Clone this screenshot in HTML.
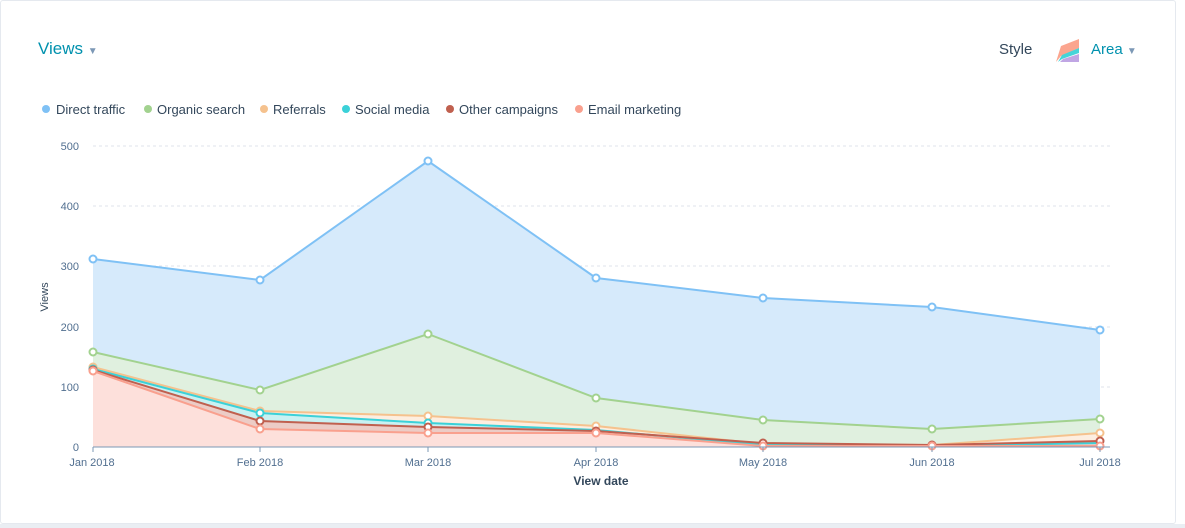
<!DOCTYPE html>
<html><head><meta charset="utf-8"><style>
body{margin:0;width:1185px;height:528px;background:#fff;font-family:"Liberation Sans",sans-serif;overflow:hidden;position:relative}
.card{position:absolute;left:0;top:0;width:1176px;height:524px;border:1px solid #e5e9ef;border-radius:3px;box-sizing:border-box}
.bot{position:absolute;left:0;top:524px;width:1185px;height:4px;background:#eaeef3}
.t{position:absolute;white-space:nowrap}
.d{position:absolute;top:105px;width:8px;height:8px;border-radius:50%}
.l{position:absolute;top:102px;font-size:13px;color:#33475b;white-space:nowrap}
</style></head><body>
<div class="card"></div><div class="bot"></div>
<div class="t" style="left:38px;top:39px;font-size:17px;color:#0091ae">Views <span style="font-size:10px;color:#7c98b6">▼</span></div>
<div class="t" style="left:999px;top:41px;font-size:15px;color:#33475b">Style</div>
<svg style="position:absolute;left:1055px;top:36px" width="26" height="26"><path d="M1 26 L6 10 L24 3 L24 12 L6 20Z" fill="#fba58f"/><path d="M3 26 L7 19 L24 12 L24 17 L7 23Z" fill="#45d4d8"/><path d="M5 26 L8 23 L24 18 L24 26Z" fill="#c0a6e4"/></svg>
<div class="t" style="left:1091px;top:41px;font-size:15px;color:#0091ae">Area <span style="font-size:10px;color:#7c98b6">▼</span></div>
<div class="d" style="left:42px;background:#7fc1f5"></div><div class="l" style="left:56px">Direct traffic</div>
<div class="d" style="left:144px;background:#a2d28f"></div><div class="l" style="left:157px">Organic search</div>
<div class="d" style="left:260px;background:#f5c28e"></div><div class="l" style="left:273px">Referrals</div>
<div class="d" style="left:342px;background:#3bd1d8"></div><div class="l" style="left:355px">Social media</div>
<div class="d" style="left:446px;background:#c0604f"></div><div class="l" style="left:459px">Other campaigns</div>
<div class="d" style="left:575px;background:#f9a08e"></div><div class="l" style="left:588px">Email marketing</div>
<svg style="position:absolute;left:0;top:0" width="1185" height="528" font-family="Liberation Sans,sans-serif">
<g stroke="#dfe3eb" stroke-dasharray="3,3"><line x1="93" x2="1110" y1="146" y2="146"/><line x1="93" x2="1110" y1="206" y2="206"/><line x1="93" x2="1110" y1="266" y2="266"/><line x1="93" x2="1110" y1="327" y2="327"/><line x1="93" x2="1110" y1="387" y2="387"/></g>
<g font-size="11" fill="#516f90" text-anchor="end"><text x="79" y="150">500</text><text x="79" y="210">400</text><text x="79" y="270">300</text><text x="79" y="331">200</text><text x="79" y="391">100</text><text x="79" y="451">0</text></g>
<text x="48" y="297" font-size="11" fill="#33475b" transform="rotate(-90 48 297)" text-anchor="middle">Views</text>
<path d="M93 259 L260 280 L428 161 L596 278 L763 298 L932 307 L1100 330 L1100 447 L93 447Z" fill="#d6eafb"/>
<path d="M93 352 L260 390 L428 334 L596 398 L763 420 L932 429 L1100 419 L1100 447 L93 447Z" fill="#e0f0df"/>
<path d="M93 367 L260 411 L428 416 L596 426 L763 444 L932 445 L1100 433 L1100 447 L93 447Z" fill="#fdeee0"/>
<path d="M93 369 L260 413 L428 423 L596 430 L763 445 L932 446 L1100 443 L1100 447 L93 447Z" fill="#c9f1f2"/>
<path d="M93 370 L260 421 L428 427 L596 431 L763 443 L932 445 L1100 441 L1100 447 L93 447Z" fill="#ecccc6"/>
<path d="M93 371 L260 429 L428 433 L596 433 L763 446 L932 446 L1100 446 L1100 447 L93 447Z" fill="#fde0db"/>
<g fill="none" stroke-width="2">
<polyline points="93,259 260,280 428,161 596,278 763,298 932,307 1100,330" stroke="#7fc1f5"/>
<polyline points="93,352 260,390 428,334 596,398 763,420 932,429 1100,419" stroke="#a2d28f"/>
<polyline points="93,367 260,411 428,416 596,426 763,444 932,445 1100,433" stroke="#f5c28e"/>
<polyline points="93,369 260,413 428,423 596,430 763,445 932,446 1100,443" stroke="#3bd1d8"/>
<polyline points="93,370 260,421 428,427 596,431 763,443 932,445 1100,441" stroke="#c0604f"/>
<polyline points="93,371 260,429 428,433 596,433 763,446 932,446 1100,446" stroke="#f9a08e"/>
</g>
<g fill="#fff" stroke-width="2">
<g stroke="#7fc1f5"><circle cx="93" cy="259" r="3.5"/><circle cx="260" cy="280" r="3.5"/><circle cx="428" cy="161" r="3.5"/><circle cx="596" cy="278" r="3.5"/><circle cx="763" cy="298" r="3.5"/><circle cx="932" cy="307" r="3.5"/><circle cx="1100" cy="330" r="3.5"/></g>
<g stroke="#a2d28f"><circle cx="93" cy="352" r="3.5"/><circle cx="260" cy="390" r="3.5"/><circle cx="428" cy="334" r="3.5"/><circle cx="596" cy="398" r="3.5"/><circle cx="763" cy="420" r="3.5"/><circle cx="932" cy="429" r="3.5"/><circle cx="1100" cy="419" r="3.5"/></g>
<g stroke="#f5c28e"><circle cx="93" cy="367" r="3.5"/><circle cx="260" cy="411" r="3.5"/><circle cx="428" cy="416" r="3.5"/><circle cx="596" cy="426" r="3.5"/><circle cx="1100" cy="433" r="3.5"/></g>
<g stroke="#3bd1d8"><circle cx="93" cy="369" r="3.5"/><circle cx="260" cy="413" r="3.5"/><circle cx="428" cy="423" r="3.5"/></g>
<g stroke="#c0604f"><circle cx="93" cy="370" r="3.5"/><circle cx="260" cy="421" r="3.5"/><circle cx="428" cy="427" r="3.5"/><circle cx="596" cy="431" r="3.5"/><circle cx="763" cy="443" r="3.5"/><circle cx="932" cy="445" r="3.5"/><circle cx="1100" cy="441" r="3.5"/></g>
<g stroke="#f9a08e"><circle cx="93" cy="371" r="3.5"/><circle cx="260" cy="429" r="3.5"/><circle cx="428" cy="433" r="3.5"/><circle cx="596" cy="433" r="3.5"/><circle cx="763" cy="446" r="3.5"/><circle cx="932" cy="446" r="3.5"/><circle cx="1100" cy="446" r="3.5"/></g>
</g>
<line x1="93" x2="1110" y1="447" y2="447" stroke="#7c98b6"/>
<g stroke="#7c98b6"><line x1="93" x2="93" y1="447" y2="452"/><line x1="260" x2="260" y1="447" y2="452"/><line x1="428" x2="428" y1="447" y2="452"/><line x1="596" x2="596" y1="447" y2="452"/><line x1="763" x2="763" y1="447" y2="452"/><line x1="932" x2="932" y1="447" y2="452"/><line x1="1100" x2="1100" y1="447" y2="452"/></g>
<g font-size="11" fill="#516f90" text-anchor="middle"><text x="92" y="466">Jan 2018</text><text x="260" y="466">Feb 2018</text><text x="428" y="466">Mar 2018</text><text x="596" y="466">Apr 2018</text><text x="763" y="466">May 2018</text><text x="932" y="466">Jun 2018</text><text x="1100" y="466">Jul 2018</text></g>
<text x="601" y="485" font-size="12" font-weight="bold" fill="#33475b" text-anchor="middle">View date</text>
</svg>
</body></html>
